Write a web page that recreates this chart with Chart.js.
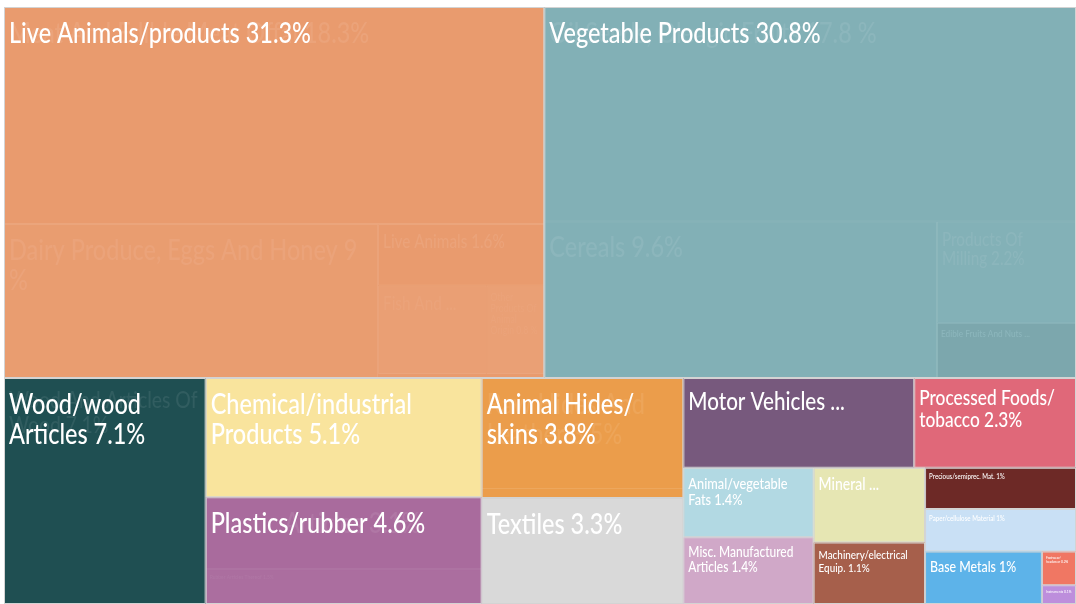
<!DOCTYPE html>
<html>
<head>
<meta charset="utf-8">
<script src="https://cdn.jsdelivr.net/npm/chart.js@4.4.1/dist/chart.umd.min.js"></script>
<style>
  html, body { margin: 0; padding: 0; background: #ffffff; }
  #wrap { width: 1076px; height: 604px; }
</style>
</head>
<body>
<div id="wrap"><canvas id="c" width="1076" height="604"></canvas></div>
<script>
// ---------------- DATA ----------------
const sectorNames = ["Live Animals/products", "Vegetable Products", "Wood/wood Articles",
  "Chemical/industrial Products", "Plastics/rubber", "Animal Hides/skins", "Textiles",
  "Motor Vehicles ...", "Processed Foods/tobacco", "Animal/vegetable Fats",
  "Misc. Manufactured Articles", "Mineral ...", "Machinery/electrical Equip.",
  "Precious/semiprec. Mat.", "Paper/cellulose Material", "Base Metals",
  "Footwear/headwear", "Instruments"];
const sectorShares = [31.3, 30.8, 7.12, 5.14, 4.6, 3.78, 3.34, 3.24, 2.27, 1.41,
  1.36, 1.30, 1.07, 0.97, 1.0, 0.96, 0.18, 0.10];

const subParent = [0, 0, 0, 0, 0, 1, 1, 1, 1, 2, 4, 4, 5];
const subNames = ["Meat And Edible Meat Offal", "Dairy Produce, Eggs And Honey", "Live Animals",
  "Fish And ...", "Other Products Of Animal Origin", "Oil Seeds, Oleagic Fruits", "Cereals",
  "Products Of Milling", "Edible Fruits And Nuts ...", "Wood And Articles Of Wood",
  "Plastic Articles", "Rubber Articles Thereof", "Raw Hides And Leather"];
const subShares = [18.3, 9.0, 1.6, 1.5, 0.8, 17.8, 9.6, 2.2, 1.2, 7.1, 3.1, 1.5, 3.5];
const subUnit = ["%", " %", "%", "%", " %", " %", "%", "%", "%", "%", "%", "%", "%"];

// ---------------- TILING (strip order of the treemap) ----------------
const sectorStrips = [["row", 2], ["col", 1], ["col", 2], ["col", 2], ["row", 2], ["col", 2],
  ["col", 2], ["row", 1], ["row", 1], ["col", 1], ["row", 1], ["row", 1]];
const subStrips = {
  0: [["row", 1], ["col", 1], ["row", 1], ["row", 2]],
  1: [["row", 1], ["col", 1], ["row", 1], ["row", 1]],
  2: [["col", 1]],
  4: [["row", 1], ["row", 1]],
  5: [["row", 1]]
};

// ---------------- STYLE ----------------
const sectorColors = ["#E99B6E", "#82B0B6", "#1F4F52", "#F9E49D", "#A96B9D", "#EB9D4B", "#D9D9D9",
  "#77597D", "#E06879", "#B2D9E3", "#D0A8C8", "#E6E6B3", "#A65F4B", "#6D2926", "#C9E0F5",
  "#5DB3E9", "#F07763", "#BD8EDC"];
const sectorFont = [28.5, 28.5, 28.5, 28.5, 28.5, 28.5, 28.5, 25, 21, 15.5, 14.5, 17, 12, 7.5, 7.5, 15, 4, 4];
const subFont = [28.5, 28.5, 18.5, 18.5, 10.5, 28.5, 28.5, 18.5, 10, 23.5, 28.5, 6, 28.5];
const subTint = [0, 0.015, 0, 0.04, 0.05, 0, 0, 0.01, -0.05, 0, 0, 0.02, 0];
const FONT = 'Lato, "DejaVu Sans", sans-serif';
const FONT_WEIGHT = "500";

// ---------------- HELPERS ----------------
function fmt(v) { return String(Math.round(v * 10) / 10); }
function mix(hex, t) {
  const n = parseInt(hex.slice(1), 16);
  let r = (n >> 16) & 255, g = (n >> 8) & 255, b = n & 255;
  const tg = t > 0 ? 255 : 0, a = Math.abs(t);
  r = Math.round(r + (tg - r) * a); g = Math.round(g + (tg - g) * a); b = Math.round(b + (tg - b) * a);
  return `rgb(${r},${g},${b})`;
}
function tile(values, strips, x0, y0, x1, y1, total) {
  let rem = total, i = 0;
  const out = [];
  for (const [dir, n] of strips) {
    const group = values.slice(i, i + n);
    const sum = group.reduce((a, b) => a + b, 0);
    if (dir === "row") {
      const h = (y1 - y0) * sum / rem; let x = x0;
      group.forEach(v => { const w = (x1 - x0) * v / sum; out.push({x0: x, x1: x + w, y0: y0, y1: y0 + h}); x += w; });
      y0 += h;
    } else {
      const w = (x1 - x0) * sum / rem; let y = y0;
      group.forEach(v => { const h = (y1 - y0) * v / sum; out.push({x0: x0, x1: x0 + w, y0: y, y1: y + h}); y += h; });
      x0 += w;
    }
    rem -= sum; i += n;
  }
  return out;
}
let SX = 1; // horizontal condensing of the label font (narrow look)
function wrap(measure, text, maxW) {
  const toks = [];
  text.split(" ").forEach((w, wi) => {
    const parts = w.split(/(?<=\/)/);
    parts.forEach((p, pi) => toks.push({t: p, j: (pi === 0 ? (wi === 0 ? "" : " ") : "")}));
  });
  const lines = [];
  let line = "";
  toks.forEach((tk, k) => {
    if (k === 0) { line = tk.t; return; }
    const cand = line + tk.j + tk.t;
    if (measure(cand) <= maxW) line = cand;
    else { lines.push(line); line = tk.t; }
  });
  if (line) lines.push(line);
  return lines;
}

// ---------------- CONTROLLER (cells drawn as Chart.js bar elements) ----------------
class TreemapLite extends Chart.DatasetController {
  update(mode) {
    const meta = this._cachedMeta;
    this.updateElements(meta.data, 0, meta.data.length, mode);
  }
  updateElements(rects, start, count, mode) {
    const meta = this._cachedMeta;
    const xs = meta.xScale, ys = meta.yScale;
    const data = this.getDataset().data;
    for (let i = start; i < start + count; i++) {
      const c = data[i];
      const l = xs.getPixelForValue(c.x0), r = xs.getPixelForValue(c.x1);
      const t = ys.getPixelForValue(c.y0), b = ys.getPixelForValue(c.y1);
      const props = {
        x: (l + r) / 2, y: t, base: b, width: r - l, height: b - t,
        horizontal: false, inflateAmount: 0, borderSkipped: {},
        options: this.resolveDataElementOptions(i, mode)
      };
      this.updateElement(rects[i], i, props, mode);
    }
  }
  draw() {
    super.draw();
    const ctx = this.chart.ctx;
    const meta = this._cachedMeta;
    const data = this.getDataset().data;
    ctx.save();
    ctx.textAlign = "left";
    ctx.textBaseline = "alphabetic";
    meta.data.forEach((el, i) => {
      const d = data[i];
      if (!d.label) return;
      const left = el.x - el.width / 2, top = Math.min(el.y, el.base), h = Math.abs(el.base - el.y);
      const fs = d.fs;
      const pad = fs >= 12 ? 5 : 4;
      ctx.font = `${FONT_WEIGHT} ${fs}px ${FONT}`;
      ctx.fillStyle = d.textColor;
      const lines = wrap(s => ctx.measureText(s).width * SX, d.label, el.width - 2 * pad);
      const lh = fs * 1.06;
      const by = top + 3 + fs * 1.15;
      ctx.save();
      ctx.beginPath(); ctx.rect(left, top, el.width, h); ctx.clip();
      lines.forEach((ln, k) => {
        ctx.save();
        ctx.translate(left + pad, by + k * lh);
        ctx.scale(SX, 1);
        ctx.fillText(ln, 0, 0);
        ctx.restore();
      });
      ctx.restore();
    });
    ctx.restore();
  }
}
TreemapLite.id = "treemapLite";
TreemapLite.defaults = { datasetElementType: false, dataElementType: "bar" };
Chart.register(TreemapLite);

// ---------------- BUILD ----------------
const total = sectorShares.reduce((a, b) => a + b, 0);
const sectorRects = tile(sectorShares, sectorStrips, 0, 0, 100, 100, total);

const sectorCells = sectorRects.map((r, i) => Object.assign({}, r, {
  label: sectorNames[i].endsWith("...") ? sectorNames[i] : sectorNames[i] + " " + fmt(sectorShares[i]) + "%",
  fs: sectorFont[i], textColor: "#ffffff"
}));
const fillCells = sectorRects.map(r => Object.assign({}, r));

const subCells = [], subColors = [];
Object.keys(subStrips).forEach(pk => {
  const p = +pk;
  const idx = subParent.map((q, k) => q === p ? k : -1).filter(k => k >= 0);
  const pr = sectorRects[p];
  const rects = tile(idx.map(k => subShares[k]), subStrips[p], pr.x0, pr.y0, pr.x1, pr.y1, sectorShares[p]);
  rects.forEach((r, j) => {
    const k = idx[j];
    subCells.push(Object.assign({}, r, {
      label: subNames[k].endsWith("...") ? subNames[k] : subNames[k] + " " + fmt(subShares[k]) + subUnit[k],
      fs: subFont[k], textColor: mix(sectorColors[p], 0.08)
    }));
    subColors.push(mix(sectorColors[p], subTint[k]));
  });
});

// calibrate the condensing so the font reads as a narrow face (~0.39em per char)
(function () {
  const cx = document.createElement("canvas").getContext("2d");
  cx.font = `${FONT_WEIGHT} 28.5px ${FONT}`;
  const s = sectorCells[0].label;
  SX = Math.min(1, (s.length * 28.5 * 0.3925) / cx.measureText(s).width);
})();

new Chart(document.getElementById("c"), {
  type: "treemapLite",
  data: {
    datasets: [
      { label: "sections", order: 0, parsing: false, data: sectorCells,
        backgroundColor: "rgba(0,0,0,0)", borderColor: "#d3d3d3", borderWidth: 1 },
      { label: "products", order: 1, parsing: false, data: subCells,
        backgroundColor: subColors, borderColor: "rgba(255,255,255,0.10)", borderWidth: 1 },
      { label: "fill", order: 2, parsing: false, data: fillCells,
        backgroundColor: sectorColors, borderWidth: 0 }
    ]
  },
  options: {
    responsive: false,
    animation: false,
    events: [],
    layout: { padding: { left: 4, top: 7, right: 0, bottom: 0 } },
    scales: {
      x: { type: "linear", min: 0, max: 100, display: false },
      y: { type: "linear", min: 0, max: 100, reverse: true, display: false }
    },
    plugins: { legend: { display: false }, tooltip: { enabled: false } }
  }
});
</script>
</body>
</html>
